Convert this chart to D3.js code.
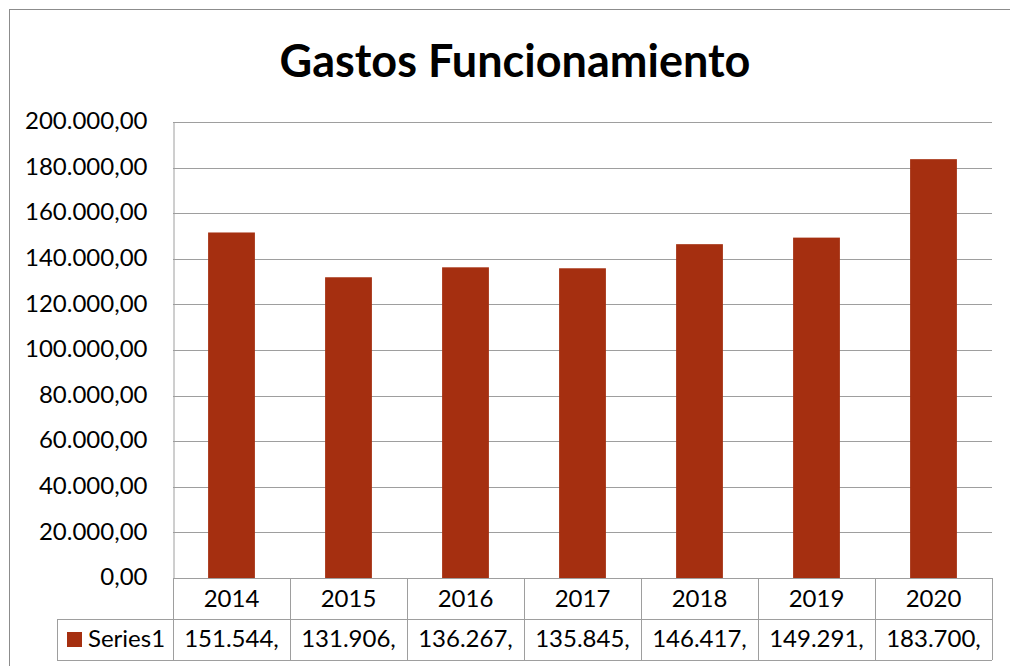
<!DOCTYPE html>
<html>
<head>
<meta charset="utf-8">
<script src="https://cdn.jsdelivr.net/npm/d3@7"></script>
<style>
  body { margin: 0; background: #fff; }
  svg { display: block; font-family: Lato, "Open Sans", sans-serif; }
</style>
</head>
<body>
<div id="chart"></div>
<script>
const years = ["2014", "2015", "2016", "2017", "2018", "2019", "2020"];
const values = [151544, 131906, 136267, 135845, 146417, 149291, 183700];
const tableLabels = ["151.544,", "131.906,", "136.267,", "135.845,", "146.417,", "149.291,", "183.700,"];
const yTicks = [0, 20000, 40000, 60000, 80000, 100000, 120000, 140000, 160000, 180000, 200000];
const seriesName = "Series1";
const chartTitle = "Gastos Funcionamiento";

const w = 1010, h = 666;
const plotL = 173, plotR = 992, plotT = 122, plotB = 578;
const rowH = 41;
const barColor = "#a52f10";
const lineColor = "#9e9e9e";

const svg = d3.select("#chart").append("svg").attr("width", w).attr("height", h);

// chart border
svg.append("rect").attr("x", 9.5).attr("y", 9.5).attr("width", w + 10).attr("height", h + 10)
    .attr("fill", "none").attr("stroke", "#8c8c8c");

svg.append("text").attr("x", 515).attr("y", 77).attr("text-anchor", "middle")
    .attr("font-size", 45).attr("font-weight", "bold").attr("fill", "#000").text(chartTitle);

const x = d3.scaleBand().domain(years).range([plotL, plotR]).paddingInner(0.6).paddingOuter(0.3);
const xCell = d3.scaleBand().domain(years).range([plotL, plotR]);
const y = d3.scaleLinear().domain([0, 200000]).range([plotB, plotT]);

const loc = d3.formatLocale({ decimal: ",", thousands: ".", grouping: [3], currency: ["", ""] });
const fmt = loc.format(",.2f");

// gridlines
svg.append("g").selectAll("line").data(yTicks.slice(1)).join("line")
    .attr("x1", plotL).attr("x2", plotR)
    .attr("y1", d => Math.round(y(d)) + 0.5).attr("y2", d => Math.round(y(d)) + 0.5)
    .attr("stroke", lineColor);

// y axis
const yAxis = svg.append("g").attr("transform", `translate(${plotL + 0.5},0)`)
    .call(d3.axisLeft(y).tickValues(yTicks).tickFormat(fmt).tickSize(0).tickPadding(26));
yAxis.select(".domain").attr("stroke", lineColor);
yAxis.selectAll("text").attr("font-size", 24).attr("fill", "#000")
    .attr("font-family", "Lato, 'Open Sans', sans-serif").attr("dy", "0.28em");

// bars
svg.append("g").selectAll("rect").data(values).join("rect")
    .attr("x", (d, i) => x(years[i]))
    .attr("y", d => y(d))
    .attr("width", x.bandwidth())
    .attr("height", d => plotB - y(d))
    .attr("fill", barColor);

// data table
const tbl = svg.append("g");
const rowLines = [plotB, plotB + rowH, plotB + 2 * rowH];
tbl.append("line").attr("x1", plotL).attr("x2", plotR).attr("y1", plotB + 0.5).attr("y2", plotB + 0.5).attr("stroke", lineColor);
tbl.append("line").attr("x1", 57).attr("x2", plotR).attr("y1", rowLines[1] + 0.5).attr("y2", rowLines[1] + 0.5).attr("stroke", lineColor);
tbl.append("line").attr("x1", 57).attr("x2", plotR).attr("y1", rowLines[2] + 0.5).attr("y2", rowLines[2] + 0.5).attr("stroke", lineColor);
tbl.selectAll("line.v").data(years.concat(["end"])).join("line").attr("class", "v")
    .attr("x1", (d, i) => Math.round(plotL + i * xCell.bandwidth()) + 0.5)
    .attr("x2", (d, i) => Math.round(plotL + i * xCell.bandwidth()) + 0.5)
    .attr("y1", plotB).attr("y2", rowLines[2]).attr("stroke", lineColor);
tbl.append("line").attr("x1", 57.5).attr("x2", 57.5).attr("y1", rowLines[1]).attr("y2", rowLines[2]).attr("stroke", lineColor);

tbl.selectAll("text.yr").data(years).join("text").attr("class", "yr")
    .attr("x", d => xCell(d) + xCell.bandwidth() / 2).attr("y", plotB + 29)
    .attr("text-anchor", "middle").attr("font-size", 24).text(d => d);
tbl.selectAll("text.val").data(tableLabels).join("text").attr("class", "val")
    .attr("x", (d, i) => xCell(years[i]) + xCell.bandwidth() / 2).attr("y", rowLines[1] + 28)
    .attr("text-anchor", "middle").attr("font-size", 24).text(d => d);

// legend key
tbl.append("rect").attr("x", 67).attr("y", 632).attr("width", 15).attr("height", 15).attr("fill", barColor);
tbl.append("text").attr("x", 88).attr("y", rowLines[1] + 28).attr("font-size", 24).text(seriesName);
</script>
</body>
</html>
